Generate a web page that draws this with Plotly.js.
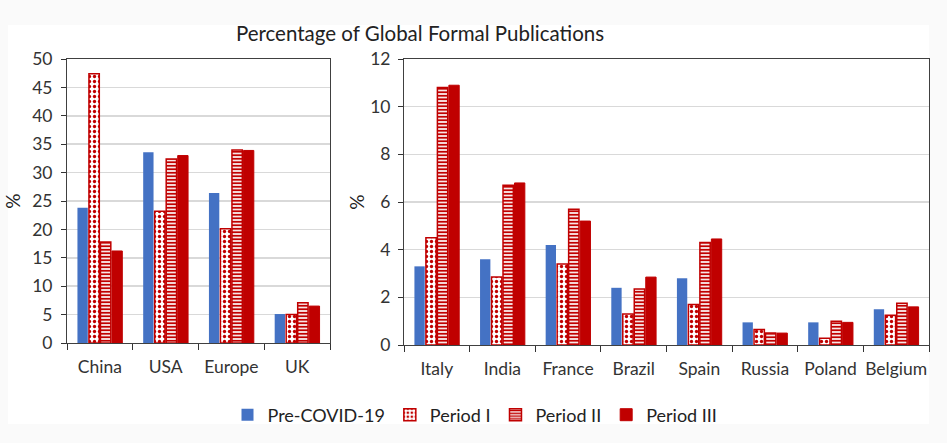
<!DOCTYPE html>
<html>
<head>
<meta charset="utf-8">
<script src="https://cdn.plot.ly/plotly-3.0.1.min.js"></script>
<style>html,body{margin:0;padding:0;background:#fafafa;}#chart{width:947px;height:443px;}</style>
</head>
<body>
<div id="chart"></div>
<script>
var leftCats = ["China", "USA", "Europe", "UK"];
var leftPre = [23.8, 33.6, 26.4, 5.1];
var leftP1 = [47.4, 23.2, 20.1, 5.0];
var leftP2 = [17.8, 32.4, 34.0, 7.1];
var leftP3 = [16.2, 33.0, 33.9, 6.5];

var rightCats = ["Italy", "India", "France", "Brazil", "Spain", "Russia", "Poland", "Belgium"];
var rightPre = [3.3, 3.6, 4.2, 2.4, 2.8, 0.95, 0.95, 1.5];
var rightP1 = [4.5, 2.85, 3.4, 1.3, 1.7, 0.65, 0.28, 1.25];
var rightP2 = [10.8, 6.7, 5.7, 2.35, 4.3, 0.5, 1.0, 1.75];
var rightP3 = [10.9, 6.8, 5.2, 2.85, 4.45, 0.5, 0.95, 1.6];

var seriesNames = ["Pre-COVID-19", "Period I", "Period II", "Period III"];

var BLUE = "#4472C4", RED = "#C00000";
var W = 947, H = 443;
var FONT = "Lato, 'Open Sans', sans-serif";

function markerFor(i) {
  if (i === 0) return {color: BLUE, line: {color: BLUE, width: 0}};
  if (i === 1) return {color: "white", line: {color: RED, width: 1.5},
    pattern: {shape: ".", fgcolor: RED, bgcolor: "white", size: 5, solidity: 0.35, fillmode: "replace"}};
  if (i === 2) return {color: "white", line: {color: RED, width: 1.5},
    pattern: {shape: "-", fgcolor: RED, bgcolor: "white", size: 3.5, solidity: 0.55, fillmode: "replace"}};
  return {color: RED, line: {color: RED, width: 1}};
}

var leftVals = [leftPre, leftP1, leftP2, leftP3];
var rightVals = [rightPre, rightP1, rightP2, rightP3];
var traces = [];
for (var i = 0; i < 4; i++) {
  traces.push({type: "bar", name: seriesNames[i], x: leftCats, y: leftVals[i],
    xaxis: "x", yaxis: "y", marker: markerFor(i), legendgroup: "s" + i, showlegend: true, hoverinfo: "x+y"});
}
for (var j = 0; j < 4; j++) {
  traces.push({type: "bar", name: seriesNames[j], x: rightCats, y: rightVals[j],
    xaxis: "x2", yaxis: "y2", marker: markerFor(j), legendgroup: "s" + j, showlegend: false, hoverinfo: "x+y"});
}

function px(x) { return x / W; }
function py(y) { return 1 - y / H; }

var axisCommon = {
  showline: true, linecolor: "#404040", linewidth: 1, mirror: true,
  tickfont: {family: FONT, size: 17.5, color: "#333"}, ticks: "outside", ticklen: 5, tickcolor: "#333"
};

var layout = {
  width: W, height: H,
  paper_bgcolor: "#fafafa", plot_bgcolor: "white",
  margin: {l: 0, r: 0, t: 0, b: 0},
  font: {family: FONT, color: "#222"},
  title: {text: "Percentage of Global Formal Publications", font: {family: FONT, size: 20.5, color: "#222"},
    x: 420 / W, xanchor: "center", y: py(34), yanchor: "middle"},
  barmode: "group", bargap: 0.3, bargroupgap: 0.1,
  showlegend: true,
  legend: {orientation: "h", x: 475 / W, xanchor: "center", y: py(415), yanchor: "middle",
    font: {family: FONT, size: 18, color: "#222"}, itemwidth: 20, tracegroupgap: 0, bgcolor: "rgba(0,0,0,0)"},
  xaxis: Object.assign({}, axisCommon, {domain: [px(67), px(330)], anchor: "y", tickson: "boundaries", ticklen: 6,
    showgrid: false, tickangle: 0, ticklabelstandoff: 8}),
  yaxis: Object.assign({}, axisCommon, {domain: [py(343), py(59)], anchor: "x", range: [0, 50], dtick: 5,
    showgrid: true, gridcolor: "#d9d9d9", gridwidth: 1.5, zeroline: false, ticklabelstandoff: 5,
    title: {text: "%", font: {family: FONT, size: 19, color: "#222"}, standoff: 6}}),
  xaxis2: Object.assign({}, axisCommon, {domain: [px(404), px(929)], anchor: "y2", tickson: "boundaries", ticklen: 6,
    showgrid: false, tickangle: 0, ticklabelstandoff: 8}),
  yaxis2: Object.assign({}, axisCommon, {domain: [py(345), py(59)], anchor: "x2", range: [0, 12], dtick: 2,
    showgrid: true, gridcolor: "#d9d9d9", gridwidth: 1.5, zeroline: false, ticklabelstandoff: 4,
    title: {text: "%", font: {family: FONT, size: 19, color: "#222"}, standoff: 0}}),
  shapes: [
    {type: "rect", xref: "paper", yref: "paper", x0: px(8), x1: px(929), y0: py(424), y1: py(25),
      fillcolor: "white", line: {width: 0}, layer: "below"}
  ]
};

Plotly.newPlot("chart", traces, layout, {displayModeBar: false, staticPlot: true});
</script>
</body>
</html>
